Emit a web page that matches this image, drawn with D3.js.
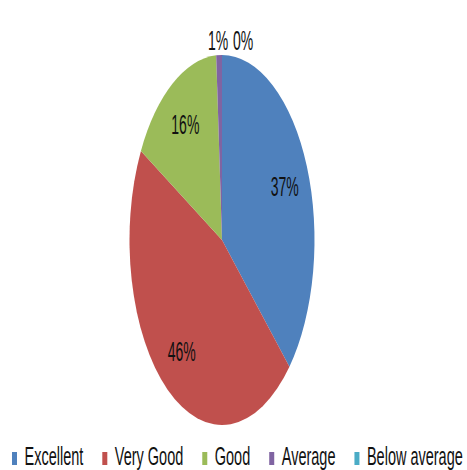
<!DOCTYPE html>
<html><head><meta charset="utf-8">
<script src="https://cdn.jsdelivr.net/npm/d3@7"></script>
<style>body{margin:0;background:#fff}svg{display:block}</style>
</head><body>
<svg id="c" width="467" height="470"></svg>
<script>
const categories = ["Excellent", "Very Good", "Good", "Average", "Below average"];
const values = [37, 46, 16, 1, 0];
const labels = ["37%", "46%", "16%", "1%", "0%"];
const colors = ["#4F81BD", "#C0504D", "#9BBB59", "#8064A2", "#4BACC6"];

const svg = d3.select("#c");
const cx = 222, cy = 240, R = 185, sx = 0.5;

const pie = d3.pie().sort(null).value(d => d)(values);
const arc = d3.arc().innerRadius(0).outerRadius(R);
const labelArc = d3.arc().innerRadius(R * 0.74).outerRadius(R * 0.74);

const g = svg.append("g").attr("transform", `translate(${cx},${cy}) scale(${sx},1)`);
g.selectAll("path").data(pie).join("path")
  .attr("d", arc).attr("fill", (d, i) => colors[i]);

const big = pie.filter(d => d.value >= 3);
big.forEach(d => {
  const [x, y] = labelArc.centroid(d);
  g.append("text").attr("x", x).attr("y", y + 10)
    .attr("text-anchor", "middle")
    .attr("font-family", "Liberation Sans, Arial, sans-serif")
    .attr("font-size", 28).attr("fill", "#111")
    .text(labels[d.index]);
});

const small = pie.filter(d => d.value < 3);
small.forEach((d, k) => {
  svg.append("text")
    .attr("transform", `translate(${cx - 4 + k * 25},${cy - R - 5}) scale(${sx},1)`)
    .attr("text-anchor", "middle")
    .attr("font-family", "Liberation Sans, Arial, sans-serif")
    .attr("font-size", 28).attr("fill", "#111")
    .text(labels[d.index]);
});

const lsx = 0.58, lfs = 25;
let x = 12;
const ly = 465;
categories.forEach((c, i) => {
  svg.append("rect").attr("x", x).attr("y", ly - 13).attr("width", 5).attr("height", 13)
    .attr("fill", colors[i]);
  const t = svg.append("text")
    .attr("transform", `translate(${x + 12.5},${ly}) scale(${lsx},1)`)
    .attr("font-family", "Liberation Sans, Arial, sans-serif")
    .attr("font-size", lfs).attr("fill", "#111")
    .text(c);
  const w = t.node().getComputedTextLength() * lsx;
  x = x + 12.5 + w + 19;
});
</script>
</body></html>
